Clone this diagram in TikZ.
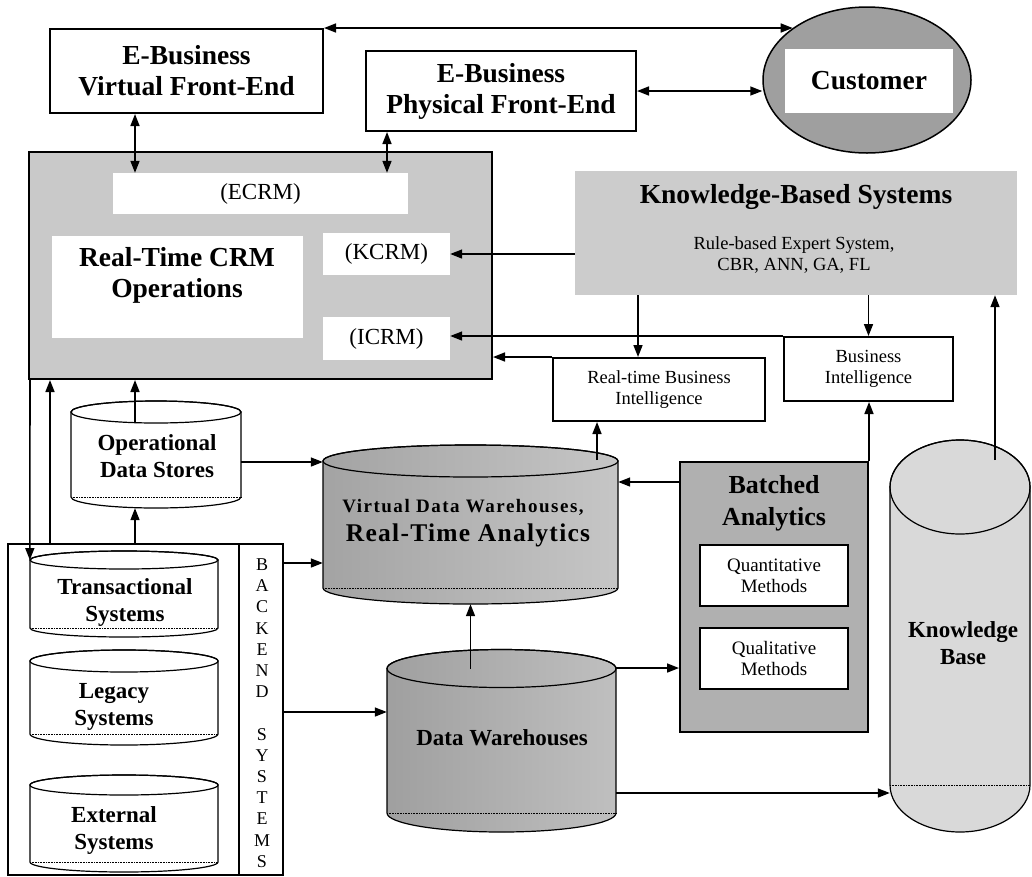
\documentclass[tikz,border=0pt]{standalone}
\usepackage{fontspec}
\setmainfont{Liberation Serif}
\usetikzlibrary{arrows.meta,shapes.geometric,calc}

\newcommand\dbcyl[7]{%
  \path[draw=black,line width=1.2pt,#7] (#2-#5,-#3) -- (#2-#5,-#4)
     arc[start angle=180,end angle=360,x radius=#5,y radius=#6] -- (#2+#5,-#3)
     arc[start angle=0,end angle=180,x radius=#5,y radius=#6] -- cycle;
  \draw[line width=1.2pt] (#2,-#3) ellipse[x radius=#5,y radius=#6];
  \draw[line width=0.6pt,densely dotted] (#2-#5,-#4) -- (#2+#5,-#4);
  \node[inner sep=0pt,minimum width={2*#5},minimum height={#4-#3+2*#6}] (#1) at (#2,{-(#3+#4)/2}) {};
  \coordinate (#1top) at (#2,-#3);
}

\tikzset{
  txtbig/.style={font=\fontsize{27.5}{31}\selectfont\bfseries},
  txtmed/.style={font=\fontsize{23}{27}\selectfont\bfseries},
  txtreg/.style={font=\fontsize{23}{27}\selectfont},
  txtsm/.style={font=\fontsize{18.5}{21.5}\selectfont},
  txtq/.style={font=\fontsize{19}{21}\selectfont},
  boxed/.style={draw=black,line width=2pt,inner sep=0pt,align=center},
  plain/.style={inner sep=0pt,align=center},
  arr/.style={line width=1.6pt,-{Triangle[length=12pt,width=9pt]}},
  biarr/.style={line width=1.6pt,{Triangle[length=12pt,width=9pt]}-{Triangle[length=12pt,width=9pt]}},
}

\begin{document}
\begin{tikzpicture}[x=1pt,y=1pt]
\useasboundingbox (0,0) rectangle (1032,-876);

% helper coordinates
\coordinate (x30) at (30,0);
\coordinate (x50) at (50,0);
\coordinate (x135) at (135,0);
\coordinate (x387) at (387,0);
\coordinate (x597) at (597,0);
\coordinate (x638) at (638,0);
\coordinate (x995) at (995,0);
\coordinate (x239) at (239,0);
\coordinate (y423) at (0,-423);
\coordinate (y460) at (0,-460);
\coordinate (y462) at (0,-462);
\coordinate (y482) at (0,-482);
\coordinate (y563) at (0,-563);
\coordinate (y668) at (0,-668);
\coordinate (y712) at (0,-712);
\coordinate (y793) at (0,-793);

% front ends
\node[boxed,txtbig,minimum width=273pt,minimum height=84pt] (vfe) at (186.5,-71) {E-Business\\Virtual Front-End};
\node[boxed,txtbig,minimum width=270pt,minimum height=80pt] (pfe) at (501,-91) {E-Business\\Physical Front-End};

% customer
\node[ellipse,draw=black,line width=1.5pt,fill=gray!75,minimum width=208pt,minimum height=146pt,inner sep=0pt] (cust) at (867,-80) {};
\node[plain,fill=white,txtbig,minimum width=168pt,minimum height=64pt] (custbox) at (869,-81) {Customer};

% CRM block
\node[boxed,fill=gray!42,minimum width=463pt,minimum height=227pt] (crm) at (260.5,-265.5) {};
\node[plain,fill=white,txtreg,minimum width=295pt,minimum height=41pt] (ecrm) at (260.5,-193.5) {(ECRM)};
\node[plain,fill=white,minimum width=251pt,minimum height=102pt] (rtops) at (177.5,-287) {};
\node[plain,txtbig] (rtopstxt) at (177,-275) {Real-Time CRM\\Operations};
\node[plain,fill=white,txtreg,minimum width=127pt,minimum height=42pt] (kcrm) at (386.5,-254) {(KCRM)};
\node[plain,fill=white,txtreg,minimum width=127pt,minimum height=43pt] (icrm) at (386.5,-338.5) {(ICRM)};

% knowledge-based systems
\node[plain,fill=gray!40,minimum width=442pt,minimum height=124pt] (kbs) at (796,-233) {};
\node[plain,txtbig] (kbstitle) at (796,-197) {Knowledge-Based Systems};
\node[plain,txtsm] (kbssub) at (794,-255) {Rule-based Expert System,\\CBR, ANN, GA, FL};

% BI boxes
\node[boxed,txtsm,minimum width=212pt,minimum height=63pt] (rtbi) at (659,-389.5) {Real-time Business\\Intelligence};
\node[boxed,txtsm,minimum width=169pt,minimum height=64pt] (bi) at (868.5,-369) {Business\\Intelligence};

% cylinders
\dbcyl{ods}{156}{412}{497}{85}{11}{fill=white}
\node[plain,txtmed] (odstxt) at (157,-456) {Operational\\Data Stores};

\dbcyl{rta}{470.5}{461}{588}{147.5}{16}{left color=gray!72,right color=gray!45}
\node[plain,font=\fontsize{19}{22}\selectfont\bfseries\addfontfeature{LetterSpace=8}] (rtatxt1) at (463,-507) {Virtual Data Warehouses,};
\node[plain,font=\fontsize{25.5}{29}\selectfont\bfseries\addfontfeature{LetterSpace=5}] (rtatxt2) at (468,-535) {Real-Time Analytics};

\dbcyl{dw}{501.5}{668.5}{813}{114.5}{19}{left color=gray!75,right color=gray!50}
\node[plain,txtmed] (dwtxt) at (502,-738) {Data Warehouses};

\dbcyl{kb}{960}{487}{785}{70}{47}{fill=gray!30}
\node[plain,txtmed] (kbtxt) at (963,-643) {Knowledge\\Base};

% batched analytics
\node[boxed,fill=gray!62,minimum width=188pt,minimum height=270pt] (bat) at (774,-597) {};
\node[plain,font=\fontsize{26}{32}\selectfont\bfseries] (battxt) at (774,-503) {Batched\\Analytics};
\node[boxed,fill=white,txtq,minimum width=148pt,minimum height=61pt] (quant) at (774,-575.5) {Quantitative\\Methods};
\node[boxed,fill=white,txtq,minimum width=148pt,minimum height=61pt] (qual) at (774,-658.5) {Qualitative\\Methods};

% backend systems
\node[boxed,minimum width=275pt,minimum height=331pt] (be) at (145.5,-709.5) {};
\draw[line width=1.6pt] (be.north -| x239) -- (be.south -| x239);
\node[plain,font=\fontsize{18}{21.2}\selectfont] (betxt) at (262,-713) {B\\A\\C\\K\\E\\N\\D\\[21.2pt]S\\Y\\S\\T\\E\\M\\S};

\dbcyl{trans}{124}{560}{628}{94}{9}{fill=white}
\node[plain,txtmed] (transtxt) at (125,-602) {Transactional\\Systems};
\dbcyl{leg}{124}{661}{734}{94}{11}{fill=white}
\node[plain,txtmed] (legtxt) at (114,-706.5) {Legacy\\Systems};
\dbcyl{ext}{124}{785}{862}{94}{10}{fill=white}
\node[plain,txtmed] (exttxt) at (114,-830) {External\\Systems};

% connectors
\draw[biarr] (vfe.south -| x135) -- (ecrm.north -| x135);
\draw[biarr] (pfe.south -| x387) -- (ecrm.north -| x387);
\draw[biarr] (vfe.north east) -- (vfe.north east -| cust.145);
\draw[biarr] (pfe.east) -- (pfe.east -| cust.west);
\draw[arr] (kbs.west |- kcrm.east) -- (kcrm.east);
\draw[arr] (bi.north west) -- (bi.north west -| icrm.east);
\draw[arr] (rtbi.north west) -- (rtbi.north west -| crm.east);
\draw[arr] (kbs.south -| x638) -- (rtbi.north -| x638);
\draw[arr] (kbs.south -| bi.north) -- (bi.north);
\draw[arr] (x995 |- y460) -- (x995 |- kbs.south);
\draw[arr] (bat.north east) -- (bat.north east |- bi.south);
\draw[arr] (bat.west |- y482) -- (rta.east |- y482);
\draw[arr] (dw.east |- y668) -- (bat.west |- y668);
\draw[arr] (dw.east |- y793) -- (kb.west |- y793);
\draw[arr] (x597 |- y460) -- (rtbi.south -| x597);
\draw[arr] (rta.south |- dwtop) -- (rta.south);
\draw[arr] (x135 |- y423) -- (crm.south -| x135);
\draw[arr] (be.north -| x135) -- (ods.south -| x135);
\draw[arr] (ods.east |- y462) -- (rta.west |- y462);
\draw[arr] (crm.south -| x30) -- (trans.west |- transtop);
\draw[arr] (be.north -| x50) -- (crm.south -| x50);
\draw[arr] (be.east |- y563) -- (rta.west |- y563);
\draw[arr] (be.east |- y712) -- (dw.west |- y712);
\end{tikzpicture}
\end{document}
